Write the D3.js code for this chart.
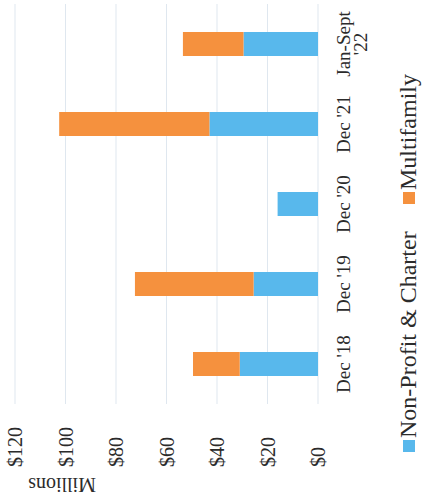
<!DOCTYPE html>
<html>
<head>
<meta charset="utf-8">
<script src="https://cdn.jsdelivr.net/npm/d3@7"></script>
<style>
  html, body { margin: 0; padding: 0; background: #ffffff; }
  svg { display: block; }
  text { font-family: "Liberation Serif", "Times New Roman", serif; fill: #2b2b2b; }
</style>
</head>
<body>
<svg id="chart" width="422" height="500"></svg>
<script>
const categories = ["Dec '18", "Dec '19", "Dec '20", "Dec '21", "Jan-Sept '22"];
const categoryLines = [["Dec '18"], ["Dec '19"], ["Dec '20"], ["Dec '21"], ["Jan-Sept", "'22"]];
const nonProfitCharter = [31, 25.5, 16, 43, 29.5];
const multifamily = [18.5, 47, 0, 59.5, 24];
const seriesNames = ["Non-Profit & Charter", "Multifamily"];
const tickValues = [0, 20, 40, 60, 80, 100, 120];
const tickLabels = ["$0", "$20", "$40", "$60", "$80", "$100", "$120"];
const axisTitle = "Millions";

const colors = ["#58b8ec", "#f5913e"];

const svg = d3.select("#chart");
// Chart drawn in upright frame (500 wide x 422 tall), then rotated -90deg onto the page
const g = svg.append("g").attr("transform", "translate(0,500) rotate(-90)");

const x = d3.scaleBand().domain(categories).range([96, 496]).paddingInner(0.7).paddingOuter(0.35);
const y = d3.scaleLinear().domain([0, 120]).range([318, 15]);

// gridlines
g.append("g").selectAll("line").data(tickValues).join("line")
  .attr("x1", 96).attr("x2", 496)
  .attr("y1", d => y(d)).attr("y2", d => y(d))
  .attr("stroke", "#dfe7ef").attr("stroke-width", 1);

// tick labels
g.append("g").selectAll("text").data(tickValues).join("text")
  .attr("x", 33).attr("y", d => y(d))
  .attr("text-anchor", "start").attr("dominant-baseline", "central")
  .style("font-size", "20px")
  .text((d, i) => tickLabels[i]);

// axis title
g.append("text")
  .attr("transform", "translate(22,62) rotate(-90)")
  .attr("text-anchor", "middle")
  .style("font-size", "20px")
  .text(axisTitle);

// stacked bars
const rows = categories.map((c, i) => ({ cat: c, np: nonProfitCharter[i], mf: multifamily[i] }));
const stack = d3.stack().keys(["np", "mf"])(rows);
g.append("g").selectAll("g").data(stack).join("g")
  .attr("fill", (d, i) => colors[i])
  .selectAll("rect").data(d => d).join("rect")
  .attr("x", d => x(d.data.cat))
  .attr("width", x.bandwidth())
  .attr("y", d => y(d[1]))
  .attr("height", d => y(d[0]) - y(d[1]));

// category labels
const catG = g.append("g").selectAll("text").data(categories).join("text")
  .attr("text-anchor", "middle")
  .style("font-size", "19px");
catG.each(function (c, i) {
  d3.select(this).selectAll("tspan").data(categoryLines[i]).join("tspan")
    .attr("x", x(c) + x.bandwidth() / 2)
    .attr("y", (d, j) => 350 + j * 17)
    .text(d => d);
});

// legend
const legendX = [48, 296];
const lg = g.append("g").selectAll("g").data(seriesNames).join("g")
  .attr("transform", (d, i) => `translate(${legendX[i]},0)`);
lg.append("rect").attr("x", 0).attr("y", 403).attr("width", 12).attr("height", 12)
  .attr("fill", (d, i) => colors[i]);
lg.append("text").attr("x", 14).attr("y", 416)
  .style("font-size", "24px")
  .text(d => d);
</script>
</body>
</html>
